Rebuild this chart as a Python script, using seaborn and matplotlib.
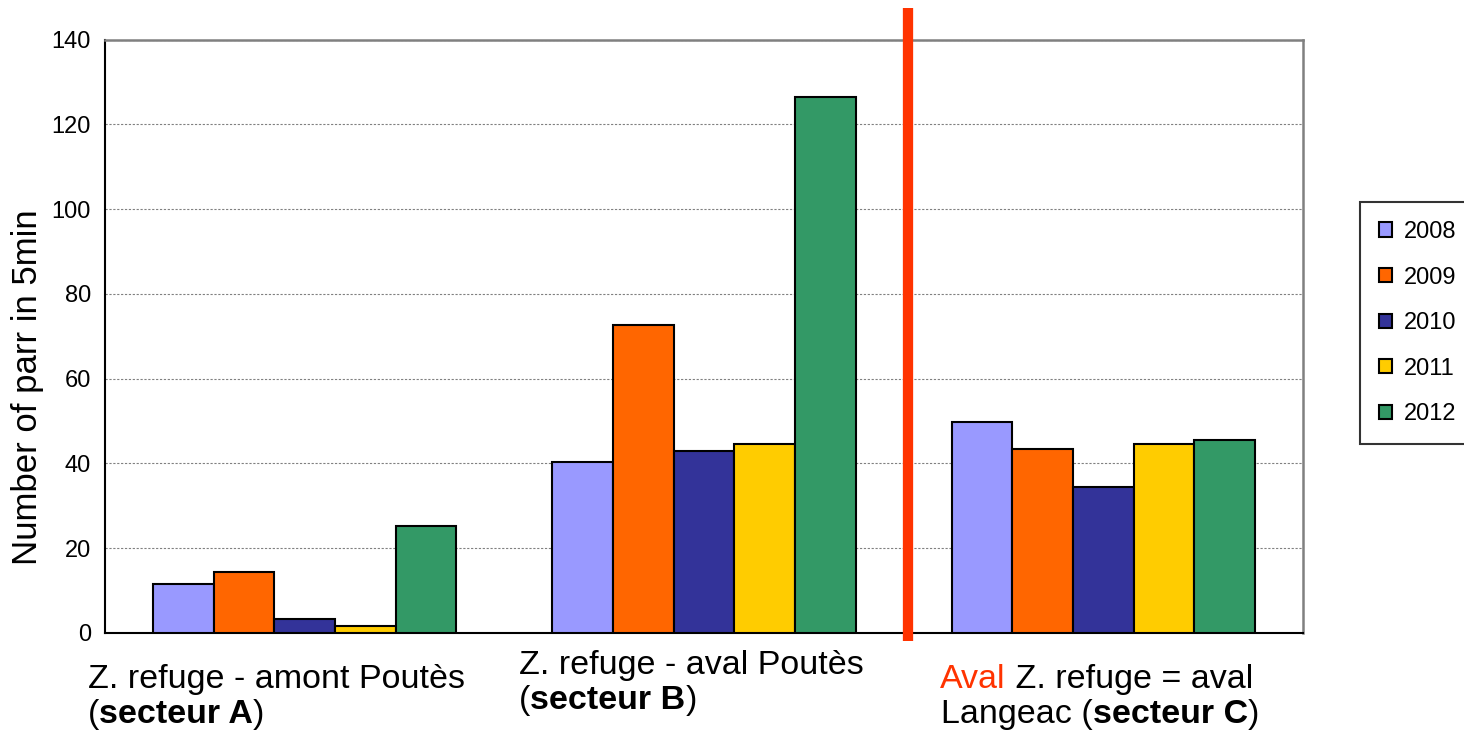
import matplotlib
matplotlib.use("Agg")
import matplotlib.pyplot as plt
from matplotlib.patches import Patch
import seaborn as sns
import pandas as pd

# ---------------- data ----------------
categories = ["Z. refuge - amont Poutès (secteur A)",
              "Z. refuge - aval Poutès (secteur B)",
              "Aval Z. refuge = aval Langeac (secteur C)"]
years = ["2008", "2009", "2010", "2011", "2012"]
v2008 = [11.5, 40.3, 49.7]
v2009 = [14.3, 72.6, 43.4]
v2010 = [3.3, 43.0, 34.5]
v2011 = [1.6, 44.5, 44.5]
v2012 = [25.2, 126.5, 45.5]
yticks = [0, 20, 40, 60, 80, 100, 120, 140]
ylabel = "Number of parr in 5min"
colors = ["#9999FF", "#FF6600", "#333399", "#FFCC00", "#339966"]

series = {"2008": v2008, "2009": v2009, "2010": v2010, "2011": v2011, "2012": v2012}
rows = []
for y in years:
    for c, v in zip(categories, series[y]):
        rows.append({"cat": c, "year": y, "value": v})
df = pd.DataFrame(rows)

# ---------------- figure ----------------
sns.set_style("white")
plt.rcParams["font.family"] = ["Liberation Sans", "DejaVu Sans"]
plt.rcParams["text.color"] = "black"
plt.rcParams["xtick.color"] = "black"
plt.rcParams["ytick.color"] = "black"

W, H = 1464, 734
fig = plt.figure(figsize=(W / 100, H / 100), dpi=100)
ax = fig.add_axes([105 / W, 101.2 / H, (1303 - 105) / W, 593.3 / H])

sns.barplot(data=df, x="cat", y="value", hue="year", order=categories,
            hue_order=years, palette=colors, saturation=1, width=0.76,
            edgecolor="black", linewidth=1.5, ax=ax, legend=False, zorder=3)

ax.set_xlim(-0.5, 2.5)
ax.set_ylim(0, 140)
ax.set_yticks(yticks)
ax.set_yticklabels([str(t) for t in yticks], fontsize=17, color="black")
ax.set_xticks([0, 1, 2])
ax.set_xticklabels(["", "", ""])
ax.set_xticks([-0.5, 0.5, 1.5, 2.5], minor=True)
ax.tick_params(axis="x", which="major", length=0)
ax.tick_params(axis="x", which="minor", length=7, width=1.2, color="black", direction="out")
ax.tick_params(axis="y", which="major", length=6, width=1.2, color="black", direction="out", pad=4)
ax.set_xlabel("")
ax.set_ylabel("")

ax.yaxis.grid(True, linestyle=(0, (2, 1.5)), color="#808080", linewidth=0.8, zorder=0)
ax.xaxis.grid(False)
ax.set_axisbelow(True)

for s in ["left", "bottom"]:
    ax.spines[s].set_color("black")
    ax.spines[s].set_linewidth(1.5)
for s in ["top", "right"]:
    ax.spines[s].set_color("#808080")
    ax.spines[s].set_linewidth(1.8)

# red separator
ax.axvline(1.511, ymin=-0.0135, ymax=1.053, color="#FF3300", linewidth=7.4,
           clip_on=False, zorder=5, solid_capstyle="butt")

# y label
fig.text(28 / W, 1 - 387 / H, ylabel, rotation=90, fontsize=25,
         ha="center", va="center", color="black")

# x category labels (rich text lines)
LBL = 24.5


def rich_line(x_px, y_px, parts):
    c0, t0, w0 = parts[0]
    t = fig.text(x_px / W, 1 - y_px / H, t0, color=c0, fontweight=w0,
                 fontsize=LBL, ha="left", va="baseline")
    for c, txt, w in parts[1:]:
        t = ax.annotate(txt, xy=(1, 0), xycoords=t, xytext=(0, 0),
                        textcoords="offset points", ha="left", va="bottom",
                        color=c, fontweight=w, fontsize=LBL, annotation_clip=False)


K, R = "black", "#FF3300"
rich_line(88, 688, [(K, "Z. refuge - amont Poutès", "normal")])
rich_line(88, 723, [(K, "(", "normal"), (K, "secteur A", "bold"), (K, ")", "normal")])
rich_line(519, 674, [(K, "Z. refuge - aval Poutès", "normal")])
rich_line(519, 709, [(K, "(", "normal"), (K, "secteur B", "bold"), (K, ")", "normal")])
rich_line(940, 688, [(R, "Aval", "normal"), (K, " Z. refuge = aval", "normal")])
rich_line(941, 723, [(K, "Langeac (", "normal"), (K, "secteur C", "bold"), (K, ")", "normal")])

# legend
handles = [Patch(facecolor=c, edgecolor="black", linewidth=1.5) for c in colors]
leg = fig.legend(handles, years, loc="upper left",
                 bbox_to_anchor=(1360 / W, 1 - 202 / H), fontsize=17,
                 frameon=True, fancybox=False, edgecolor="black",
                 handlelength=0.55, handleheight=0.55, labelspacing=1.0,
                 borderpad=0.8, handletextpad=0.5, borderaxespad=0)
leg.get_frame().set_linewidth(1.5)

fig.savefig("out.png", dpi=100)
